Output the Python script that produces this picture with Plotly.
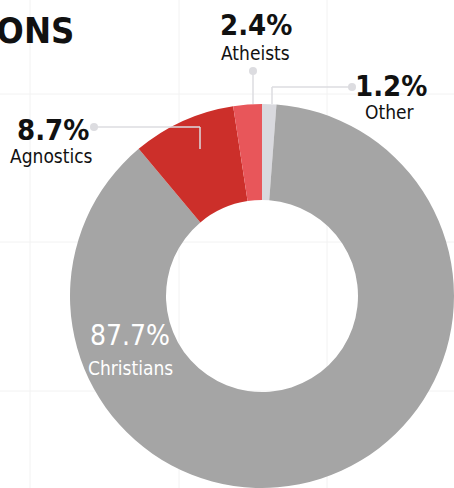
import plotly.graph_objects as go

# Data
labels = ["Other", "Christians", "Agnostics", "Atheists"]
values = [1.2, 87.7, 8.7, 2.4]
colors = ["#d9d9de", "#a5a5a5", "#cc2f2a", "#e8565a"]
title_text = "RELIGIONS"

W, H = 454, 488
FONT = "DejaVu Sans Condensed, Roboto, sans-serif"
LINE_COL = "#dcdce0"


def px(x):
    return x / W


def py(y):
    return 1 - y / H


fig = go.Figure()
fig.add_trace(go.Pie(
    labels=labels,
    values=values,
    marker=dict(colors=colors, line=dict(width=0)),
    hole=0.5,
    sort=False,
    direction="clockwise",
    rotation=0,
    textinfo="none",
    hoverinfo="label+percent",
    showlegend=False,
    domain=dict(x=[px(70), px(454)], y=[py(488), py(104)]),
))

shapes = []
# faint background grid
for xv in [30, 179, 327]:
    shapes.append(dict(type="line", xref="paper", yref="paper", x0=px(xv), x1=px(xv), y0=0, y1=1,
                       line=dict(color="#f2f2f2", width=1), layer="below"))
for yv in [94, 242, 391]:
    shapes.append(dict(type="line", xref="paper", yref="paper", x0=0, x1=1, y0=py(yv), y1=py(yv),
                       line=dict(color="#f2f2f2", width=1), layer="below"))


def seg(x0, y0, x1, y1):
    shapes.append(dict(type="line", xref="paper", yref="paper", x0=px(x0), y0=py(y0), x1=px(x1), y1=py(y1),
                       line=dict(color=LINE_COL, width=1.5), layer="above"))


def dot(x, y, r=4):
    shapes.append(dict(type="circle", xref="paper", yref="paper", x0=px(x - r), x1=px(x + r), y0=py(y + r), y1=py(y - r),
                       fillcolor=LINE_COL, line=dict(width=0), layer="above"))

# Atheists
seg(253, 71, 253, 104)
dot(253, 71)
# Other
seg(352, 87, 272, 87)
seg(272, 87, 272, 104)
dot(352, 87)
# Agnostics
seg(94, 127, 200, 127)
seg(200, 127, 200, 149)
dot(94, 127)

annotations = []
# title (cropped at the left edge, as in the reference)
annotations.append(dict(text="<b>" + title_text + "</b>", x=px(76), y=py(31), xref="paper", yref="paper",
                        xanchor="right", yanchor="middle",
                        showarrow=False, font=dict(family=FONT, size=36, color="#111111")))

label_pos = {
    "Atheists": ((256, 25), (255, 53), "#111111"),
    "Other": ((391, 86), (390, 112), "#111111"),
    "Agnostics": ((53, 130), (51, 156), "#111111"),
    "Christians": ((130, 335), (130, 368), "#ffffff"),
}
for lab, val in zip(labels, values):
    (pxx, pyy), (lx, ly), col = label_pos[lab]
    inside = col == "#ffffff"
    txt = f"{val:.1f}%" if inside else f"<b>{val:.1f}%</b>"
    annotations.append(dict(text=txt, x=px(pxx), y=py(pyy), xref="paper", yref="paper",
                            xanchor="center", yanchor="middle", showarrow=False,
                            font=dict(family=FONT, size=28 if inside else 29, color=col)))
    annotations.append(dict(text=lab, x=px(lx), y=py(ly), xref="paper", yref="paper",
                            xanchor="center", yanchor="middle", showarrow=False,
                            font=dict(family=FONT, size=19, color=col)))

fig.update_layout(
    width=W, height=H,
    margin=dict(l=0, r=0, t=0, b=0),
    paper_bgcolor="#ffffff",
    plot_bgcolor="#ffffff",
    shapes=shapes,
    annotations=annotations,
)

fig.write_html("out.html", config={"displayModeBar": False},
               post_script="document.body.style.margin='0';document.body.style.overflow='hidden';")
